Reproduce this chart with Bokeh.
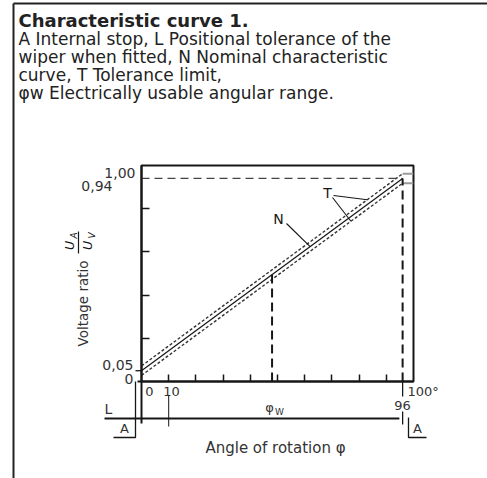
import math

from bokeh.core.properties import value
from bokeh.embed import file_html
from bokeh.models import FixedTicker, Range1d
from bokeh.plotting import figure
from bokeh.resources import INLINE

# ---- characteristic data ---------------------------------------------------
angle_nominal = [0, 96]          # angle of rotation φ (degrees) along curve N
ratio_nominal = [0.05, 0.94]     # voltage ratio UA/UV along curve N
tolerance_band = 0.022           # offset of the tolerance limits T from N
usable_end = 96                  # end of the electrically usable range φw
marker_angle = 48                # dashed reference angle inside the range
ratio_limit = 0.94               # dashed limit of the voltage ratio
x_ticks = [10, 20, 30, 40, 50, 60, 70, 80, 90]
y_ticks = [0.2, 0.4, 0.6, 0.8]
x_tick_values = [0, 10, 100]
x_tick_labels = ["0", "10", "100°"]
y_tick_values = [0, 0.05, 0.94, 1.0]
y_tick_labels = ["0", "0,05", "0,94", "1,00"]

caption_title = "Characteristic curve 1."
caption_lines = [
    "A Internal stop, L Positional tolerance of the",
    "wiper when fitted, N Nominal characteristic",
    "curve, T Tolerance limit,",
    "φw Electrically usable angular range.",
]

FONT = "DejaVu Sans"
INK = "#161616"

# ---- canvas geometry (pixels) ------------------------------------------------
W, H = 487, 478
FL, FR, FT, FB = 141, 413, 165, 381
X0, X1, Y0, Y1 = 0, 100, 0, 1.0


def dx(px):
    """Canvas pixel column -> angle units."""
    return X0 + (px - FL) / (FR - FL) * (X1 - X0)


def dy(py):
    """Canvas pixel row -> ratio units."""
    return Y0 + (FB - py) / (FB - FT) * (Y1 - Y0)


def nominal_at(a):
    a0, a1 = angle_nominal
    r0, r1 = ratio_nominal
    return r0 + (r1 - r0) * (a - a0) / (a1 - a0)


p = figure(
    width=W, height=H,
    x_range=Range1d(X0, X1), y_range=Range1d(Y0, Y1),
    output_backend="svg", toolbar_location=None,
    min_border_left=FL, min_border_right=W - FR,
    min_border_top=FT, min_border_bottom=H - FB,
)
p.grid.visible = False
p.background_fill_color = "white"
p.border_fill_color = "white"
p.outline_line_color = INK
p.outline_line_width = 2

for ax, ticks, tick_len in ((p.xaxis, x_ticks, 7), (p.yaxis, y_ticks, 8)):
    ax.ticker = FixedTicker(ticks=ticks)
    ax.axis_line_color = INK
    ax.axis_line_width = 2
    ax.major_tick_line_color = INK
    ax.major_tick_line_width = 1.5
    ax.major_tick_in = tick_len
    ax.major_tick_out = 0
    ax.minor_tick_line_color = None
    ax.major_label_text_color = None


def put_text(xs, ys, texts, size, align="center", baseline="middle",
             angle=0.0, style="normal", color=INK):
    p.text(x=xs, y=ys, text=texts, text_font=value(FONT),
           text_font_size=f"{size}px", text_align=align,
           text_baseline=baseline, angle=angle, text_font_style=style,
           text_color=color, level="overlay")


def put_line(xs, ys, width=1.3, dash="solid", color=INK, level="overlay"):
    p.line(xs, ys, line_color=color, line_width=width, line_dash=dash,
           level=level)


# ---- curves: nominal N and tolerance limits T --------------------------------
upper = [r + tolerance_band for r in ratio_nominal]
lower = [r - tolerance_band for r in ratio_nominal]
put_line(angle_nominal, upper, width=1.4, dash="3 2", color="#333333", level="glyph")
put_line(angle_nominal, lower, width=1.4, dash="3 2", color="#333333", level="glyph")
put_line(angle_nominal, ratio_nominal, width=1.2, level="glyph")

# tolerance marks at the end of the usable range
for r in (ratio_nominal[-1] + tolerance_band, ratio_nominal[-1] - tolerance_band):
    put_line([usable_end, X1], [r, r], width=2, color="#9a9a9a", level="glyph")

# dashed guides
put_line([0, usable_end], [ratio_limit, ratio_limit], width=1.3,
         dash="8 5", color="#444444", level="glyph")
put_line([usable_end, usable_end], [0, ratio_nominal[-1]], width=2,
         dash="9 5", level="glyph")
put_line([marker_angle, marker_angle], [0, nominal_at(marker_angle) + tolerance_band],
         width=2, dash="9 5", level="glyph")

# ---- curve labels N / T with leaders ------------------------------------------
put_text([dx(278)], [dy(218)], ["N"], 14)
put_line([dx(286), 62], [dy(223), nominal_at(62)], width=1.1)
put_text([dx(327)], [dy(192)], ["T"], 14)
put_line([dx(333), 83], [dy(195), nominal_at(83) + tolerance_band], width=1.1)
put_line([dx(332), 77], [dy(197), nominal_at(77) - tolerance_band], width=1.1)

# ---- y axis texts ---------------------------------------------------------------
y_label_pos = {0: (133, 378), 0.05: (133, 364), 0.94: (112, 185), 1.0: (135, 172)}
for v, t in zip(y_tick_values, y_tick_labels):
    px, py = y_label_pos[v]
    put_text([dx(px)], [dy(py)], [t], 14, align="right", color="#333333")
# outward tick at the start ratio
put_line([dx(135), 0], [y_tick_values[1], y_tick_values[1]], width=1.3)

put_text([dx(82)], [dy(303)], ["Voltage ratio"], 13.5, angle=math.pi / 2, color="#333333")
put_line([dx(78), dx(78)], [dy(231), dy(253)], width=1.2)
put_text([dx(69)], [dy(245)], ["U"], 12.5, angle=math.pi / 2, style="italic")
put_text([dx(73)], [dy(235)], ["A"], 9, angle=math.pi / 2, style="italic")
put_text([dx(87)], [dy(245)], ["U"], 12.5, angle=math.pi / 2, style="italic")
put_text([dx(91)], [dy(235)], ["V"], 9, angle=math.pi / 2, style="italic")

# ---- x axis texts and dimension lines ------------------------------------------
x_label_pos = {0: (149, "center"), 10: (171, "center"), 100: (407, "left")}
for v, t in zip(x_tick_values, x_tick_labels):
    px, al = x_label_pos[v]
    put_text([dx(px)], [dy(391)], [t], 13, align=al, color="#333333")

put_line([dx(137), 0], [0, 0], width=2)                        # axis overhang
put_line([0, 0], [0, dy(423)], width=2)                         # φ = 0
put_line([10, 10], [dy(395), dy(426)], width=1)                 # φ = 10
put_line([usable_end, usable_end], [0, dy(396)], width=1.3)     # φ = 96
put_line([usable_end, usable_end], [dy(411), dy(424)], width=1.3)
put_text([usable_end], [dy(405)], ["96"], 13, color="#333333")

# dimension line L / φw
put_line([dx(104), usable_end - 1.2], [dy(418), dy(418)], width=2)
p.scatter([usable_end - 2.2], [dy(418)], marker="triangle", size=6,
          angle=-math.pi / 2, fill_color=INK, line_color=INK, level="overlay")
put_text([dx(108)], [dy(408)], ["L"], 14, color="#333333")
put_text([dx(269)], [dy(407)], ["φ"], 13, color="#333333")
put_text([dx(279)], [dy(411)], ["W"], 9, color="#333333")

# internal stops A
put_line([dx(113), dx(135), dx(135)], [dy(437), dy(437), 0], width=1.3)
put_text([dx(124)], [dy(428)], ["A"], 13, color="#333333")
put_line([dx(408), dx(408), dx(426)], [dy(417), dy(437), dy(437)], width=1.3)
put_text([dx(417)], [dy(428)], ["A"], 13, color="#333333")

put_text([dx(275)], [dy(447)], ["Angle of rotation φ"], 15, color="#333333")

# ---- caption and panel border ---------------------------------------------------
put_text([dx(18)], [dy(20)], [caption_title], 18, align="left", style="bold",
         color="#222222")
for i, line in enumerate(caption_lines):
    put_text([dx(18)], [dy(38 + 18 * i)], [line], 17, align="left", color="#222222")

put_line([dx(13), dx(13)], [dy(478), dy(3)], width=2, color="#222222")
put_line([dx(13), dx(487)], [dy(3), dy(3)], width=2, color="#222222")

open("out.html", "w").write(file_html(p, INLINE))
